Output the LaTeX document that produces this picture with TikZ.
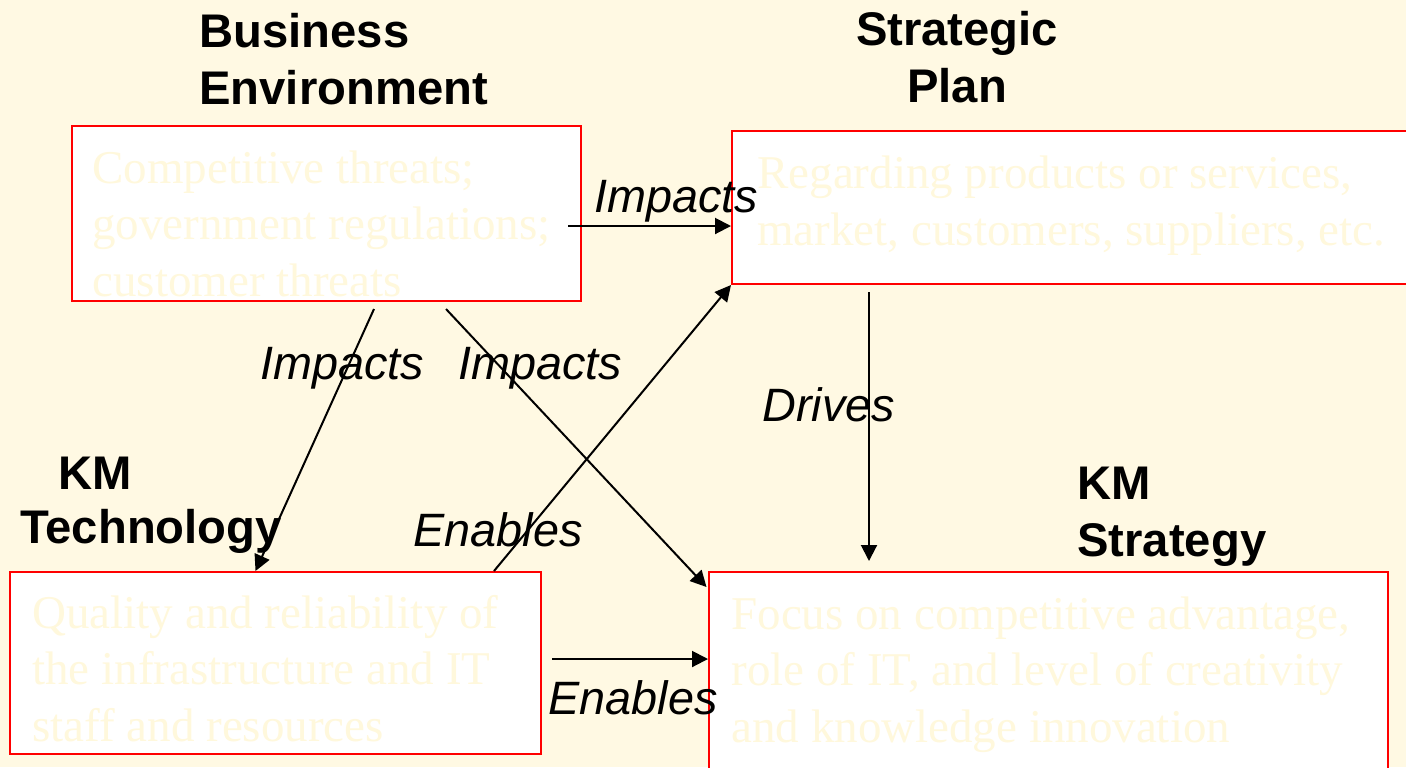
\documentclass[tikz,border=0pt]{standalone}
\usepackage{fontspec}
\setmainfont{Liberation Serif}
\setsansfont{Liberation Sans}
\usetikzlibrary{arrows.meta}

\definecolor{slidebg}{HTML}{FFF9E3}
\definecolor{faded}{HTML}{FFF8DC}

\begin{document}
\begin{tikzpicture}[
  x=0.5pt, y=-0.5pt, % one unit is one pixel of the slide, y runs down
  box/.style={
    rectangle,
    draw=red,
    line width=1pt,
    fill=white,
    inner sep=0pt
  },
  boxtext/.style={
    anchor=base west, inner sep=0pt, align=left, % base = last line
    text=faded, % nearly the colour of the slide
    font=\rmfamily\fontsize{23.5}{28.25}\selectfont
  },
  heading/.style={
    anchor=base west, inner sep=0pt, align=left,
    font=\sffamily\bfseries\fontsize{23.6}{28.5}\selectfont
  },
  relation/.style={
    anchor=base west, inner sep=0pt,
    font=\sffamily\itshape\fontsize{23.4}{28}\selectfont
  },
  link/.style={-{Triangle[length=8pt,width=8pt]}, line width=1pt}
]

\useasboundingbox (0,0) rectangle (1406,767);
\fill[slidebg] (0,0) rectangle (1406,767);
\clip (0,0) rectangle (1406,767);

% the four boxes
\node (env)  [box, minimum width=254.5pt, minimum height=87.5pt]  at (326.5,213.5) {};
\node (plan) [box, minimum width=343pt,   minimum height=76.5pt]  at (1075,207.5)  {};
\node (tech) [box, minimum width=265.5pt, minimum height=91pt]    at (275.5,663)   {};
\node (strat)[box, minimum width=339.5pt, minimum height=109pt]   at (1048.5,681)  {};

% their (faded) contents
\node (envtxt)   [boxtext] at (92,296)  {Competitive threats;\\government regulations;\\customer threats};
\node (plantxt)  [boxtext] at (757,245) {Regarding products or services,\\market, customers, suppliers, etc.};
\node (techtxt)  [boxtext] at (32,741)  {Quality and reliability of\\the infrastructure and IT\\staff and resources};
\node (strattxt) [boxtext] at (731,742) {Focus on competitive advantage,\\role of IT, and level of creativity\\and knowledge innovation};

% headings
\node (envhead)   [heading] at (199,104) {Business\\Environment};
\node (planhead)  [heading, anchor=base, align=center] at (957,102) {Strategic\\Plan};
\node (techhead)  [heading] at (20,543)  {\hspace*{19pt}KM\\[-1.5pt]Technology};
\node (strathead) [heading] at (1077,556) {KM\\Strategy};

% end points of the connectors
\coordinate (envA) at ([shift={(-14,12.5)}]env.east);
\coordinate (envB) at ([shift={(47.5,7)}]env.south);
\coordinate (envC) at ([shift={(119.5,7)}]env.south);
\coordinate (techA) at ([shift={(-48,0)}]tech.north east);
\coordinate (techB) at ([shift={(10,-4)}]tech.east);
\coordinate (planA) at ([shift={(138,7)}]plan.south west);

% connectors
\draw[link] (envA) -- (envA -| plan.west);
\draw[link] (envB) -- ([xshift=-10pt]tech.north);
\draw[link] (envC) -- ([shift={(-1.5,16)}]strat.north west);
\draw[link] (techA) -- (plan.south west);
\draw[link] (planA) -- ([yshift=5pt]planA |- strat.north);
\draw[link] (techB) -- (techB -| strat.west);

% what the connectors say
\node (impacts1) [relation] at (594,212) {Impacts};
\node (impacts2) [relation] at (260,379) {Impacts};
\node (impacts3) [relation] at (458,379) {Impacts};
\node (drives)   [relation] at (762,421) {Drives};
\node (enables1) [relation] at (413,546) {Enables};
\node (enables2) [relation] at (548,714) {Enables};
\end{tikzpicture}
\end{document}
